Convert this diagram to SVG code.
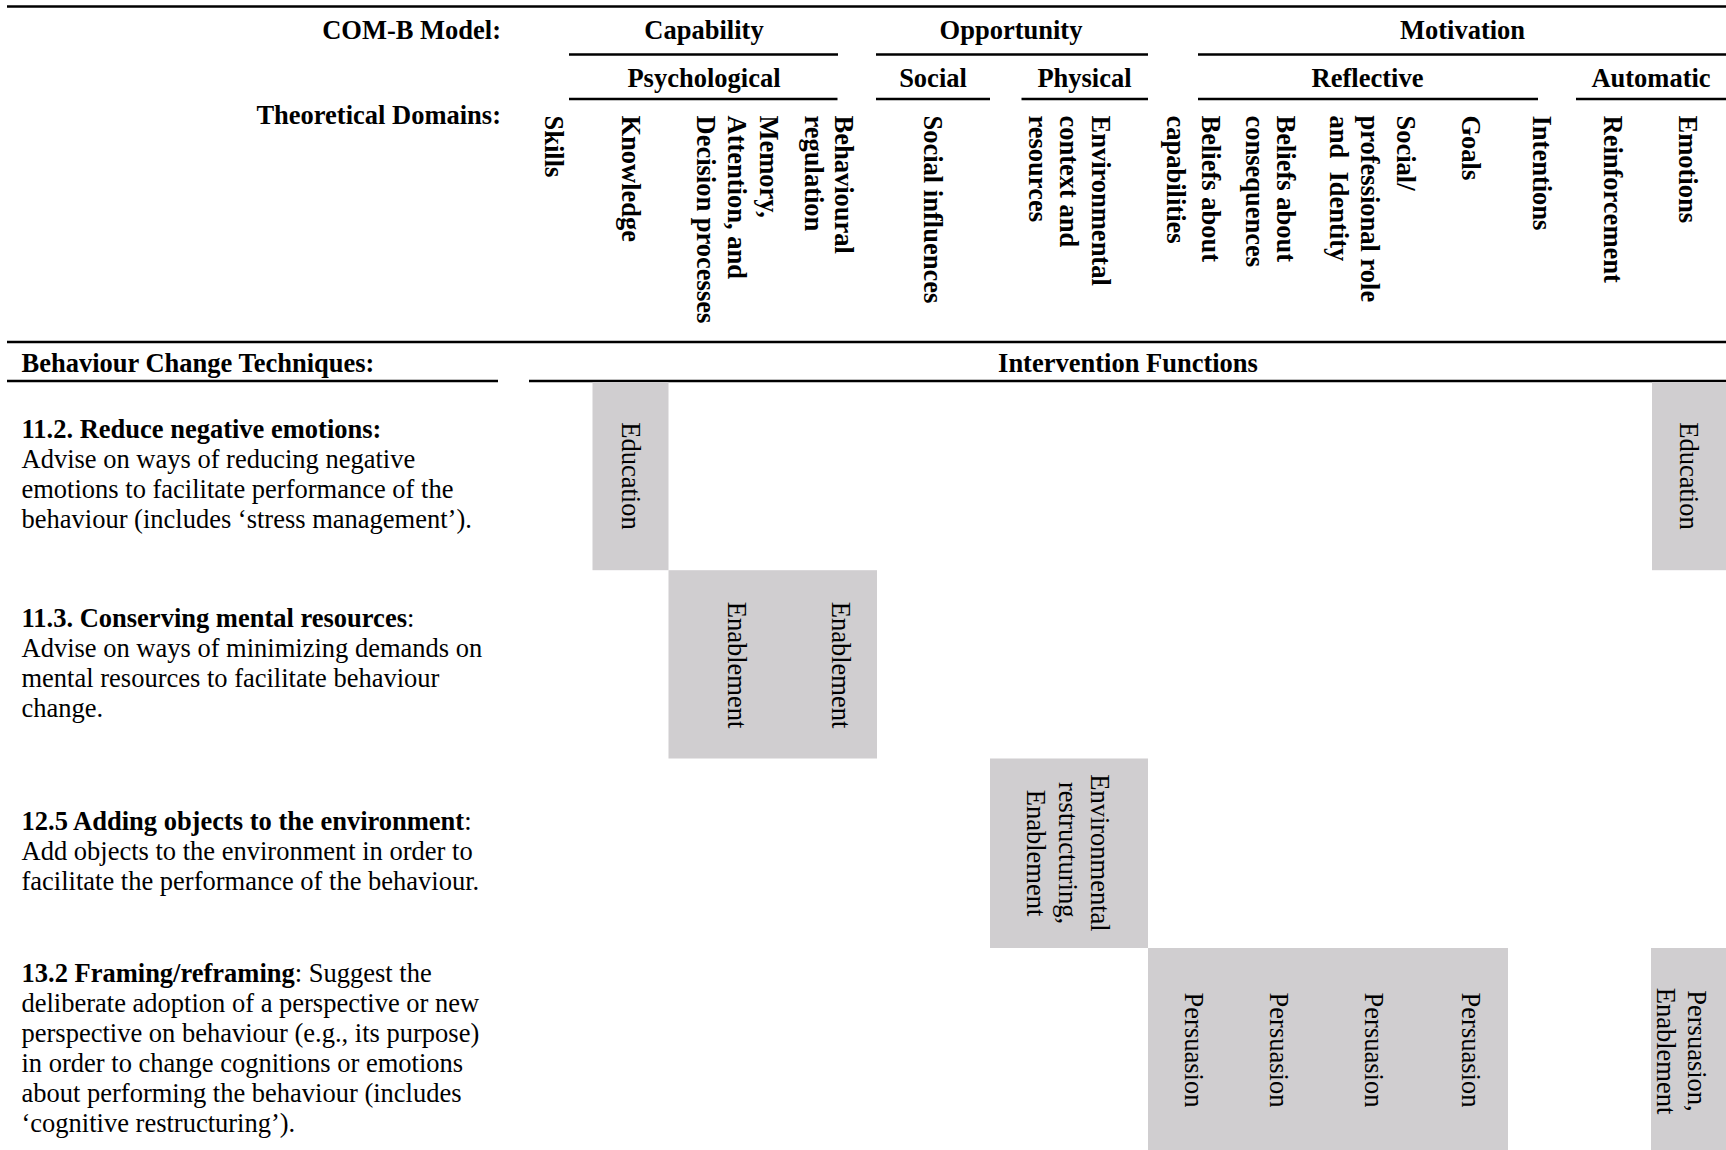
<svg xmlns="http://www.w3.org/2000/svg" width="1726" height="1150" viewBox="0 0 1726 1150">
  <style>
    .h { font-family: "Liberation Serif", "Times New Roman", serif; font-size: 26.5px; font-weight: bold; fill: #000; }
    .t { font-family: "Liberation Serif", "Times New Roman", serif; font-size: 26.5px; fill: #000; }
    .b { font-weight: bold; }
    .c { text-anchor: middle; }
    .e { text-anchor: end; }
    .rule { stroke: #000; stroke-width: 2.3; fill: none; }
    .cell { fill: #d0ced0; }
  </style>

  <!-- table rules -->
  <g id="rules" class="rule">
    <path d="M7 6.5 H1726"/>
    <path d="M569 54.5 H838 M876 54.5 H1148 M1198 54.5 H1726"/>
    <path d="M569 99 H837.5 M876 99 H990 M1021.5 99 H1148 M1198 99 H1538 M1576 99 H1726"/>
    <path d="M7 342 H1726"/>
    <path d="M7 381 H498 M529 381 H1726"/>
  </g>

  <!-- COM-B header -->
  <g id="comb-header">
    <text class="h e" x="501" y="39">COM-B Model:</text>
    <text class="h e" x="501" y="124">Theoretical Domains:</text>
    <text class="h c" x="704" y="39">Capability</text>
    <text class="h c" x="1011" y="39">Opportunity</text>
    <text class="h c" x="1462.5" y="39">Motivation</text>
    <text class="h c" x="704" y="87">Psychological</text>
    <text class="h c" x="933" y="87">Social</text>
    <text class="h c" x="1084.5" y="87">Physical</text>
    <text class="h c" x="1367.5" y="87">Reflective</text>
    <text class="h c" x="1651" y="87">Automatic</text>
  </g>

  <!-- theoretical domains, set vertically -->
  <g id="domains" class="h">
    <text transform="translate(545 115.5) rotate(90)">Skills</text>
    <text transform="translate(621.5 115.5) rotate(90)">Knowledge</text>
    <text transform="translate(760 115.5) rotate(90)">Memory,</text>
    <text transform="translate(727.5 115.5) rotate(90)">Attention, and</text>
    <text transform="translate(696.5 115.5) rotate(90)">Decision processes</text>
    <text transform="translate(835 115.5) rotate(90)">Behavioural</text>
    <text transform="translate(805 115.5) rotate(90)">regulation</text>
    <text transform="translate(924 115.5) rotate(90)">Social influences</text>
    <text transform="translate(1092 115.5) rotate(90)">Environmental</text>
    <text transform="translate(1059.5 115.5) rotate(90)">context and</text>
    <text transform="translate(1029 115.5) rotate(90)">resources</text>
    <text transform="translate(1202 115.5) rotate(90)">Beliefs about</text>
    <text transform="translate(1167 115.5) rotate(90)">capabilities</text>
    <text transform="translate(1276.5 115.5) rotate(90)">Beliefs about</text>
    <text transform="translate(1246 115.5) rotate(90)">consequences</text>
    <text transform="translate(1397 115.5) rotate(90)">Social/</text>
    <text transform="translate(1361 115.5) rotate(90)">professional role</text>
    <text transform="translate(1330 115.5) rotate(90)" style="white-space:pre">and  Identity</text>
    <text transform="translate(1462 115.5) rotate(90)">Goals</text>
    <text transform="translate(1533 115.5) rotate(90)">Intentions</text>
    <text transform="translate(1604 115.5) rotate(90)">Reinforcement</text>
    <text transform="translate(1679 115.5) rotate(90)">Emotions</text>
  </g>

  <!-- lower section headings -->
  <g id="section-headings">
    <text class="h" x="21.5" y="371.5">Behaviour Change Techniques:</text>
    <text class="h c" x="1128" y="371.5">Intervention Functions</text>
  </g>

  <!-- behaviour change techniques -->
  <g id="bct-11-2" class="t">
    <text x="21.5" y="438.3" class="b">11.2. Reduce negative emotions:</text>
    <text x="21.5" y="468.3">Advise on ways of reducing negative</text>
    <text x="21.5" y="498.3">emotions to facilitate performance of the</text>
    <text x="21.5" y="528.3">behaviour (includes ‘stress management’).</text>
  </g>
  <g id="bct-11-3" class="t">
    <text x="21.5" y="626.7"><tspan class="b">11.3. Conserving mental resources</tspan>:</text>
    <text x="21.5" y="656.7">Advise on ways of minimizing demands on</text>
    <text x="21.5" y="686.7">mental resources to facilitate behaviour</text>
    <text x="21.5" y="716.7">change.</text>
  </g>
  <g id="bct-12-5" class="t">
    <text x="21.5" y="830"><tspan class="b">12.5 Adding objects to the environment</tspan>:</text>
    <text x="21.5" y="860">Add objects to the environment in order to</text>
    <text x="21.5" y="890">facilitate the performance of the behaviour.</text>
  </g>
  <g id="bct-13-2" class="t">
    <text x="21.5" y="981.7"><tspan class="b">13.2 Framing/reframing</tspan>: Suggest the</text>
    <text x="21.5" y="1011.7">deliberate adoption of a perspective or new</text>
    <text x="21.5" y="1041.7">perspective on behaviour (e.g., its purpose)</text>
    <text x="21.5" y="1071.7">in order to change cognitions or emotions</text>
    <text x="21.5" y="1101.7">about performing the behaviour (includes</text>
    <text x="21.5" y="1131.7">‘cognitive restructuring’).</text>
  </g>

  <!-- intervention function cells -->
  <g id="if-11-2">
    <rect class="cell" x="592.5" y="382" width="76" height="188.2"/>
    <text class="t c" transform="translate(622 476) rotate(90)">Education</text>
    <rect class="cell" x="1652" y="382" width="74" height="188.2"/>
    <text class="t c" transform="translate(1680 476) rotate(90)">Education</text>
  </g>
  <g id="if-11-3">
    <rect class="cell" x="668.5" y="570.2" width="208.5" height="188.3"/>
    <text class="t c" transform="translate(727.5 665) rotate(90)">Enablement</text>
    <text class="t c" transform="translate(832 665) rotate(90)">Enablement</text>
  </g>
  <g id="if-12-5">
    <rect class="cell" x="990" y="758.5" width="158" height="189.5"/>
    <text class="t c" transform="translate(1091 853) rotate(90)">Environmental</text>
    <text class="t c" transform="translate(1059 853) rotate(90)">restructuring,</text>
    <text class="t c" transform="translate(1027 853) rotate(90)">Enablement</text>
  </g>
  <g id="if-13-2">
    <rect class="cell" x="1148" y="948" width="360" height="202"/>
    <text class="t c" transform="translate(1185 1050) rotate(90)">Persuasion</text>
    <text class="t c" transform="translate(1270 1050) rotate(90)">Persuasion</text>
    <text class="t c" transform="translate(1365 1050) rotate(90)">Persuasion</text>
    <text class="t c" transform="translate(1462 1050) rotate(90)">Persuasion</text>
    <rect class="cell" x="1651" y="948" width="75" height="202"/>
    <text class="t c" transform="translate(1688 1051) rotate(90)">Persuasion,</text>
    <text class="t c" transform="translate(1657 1051) rotate(90)">Enablement</text>
  </g>
</svg>
